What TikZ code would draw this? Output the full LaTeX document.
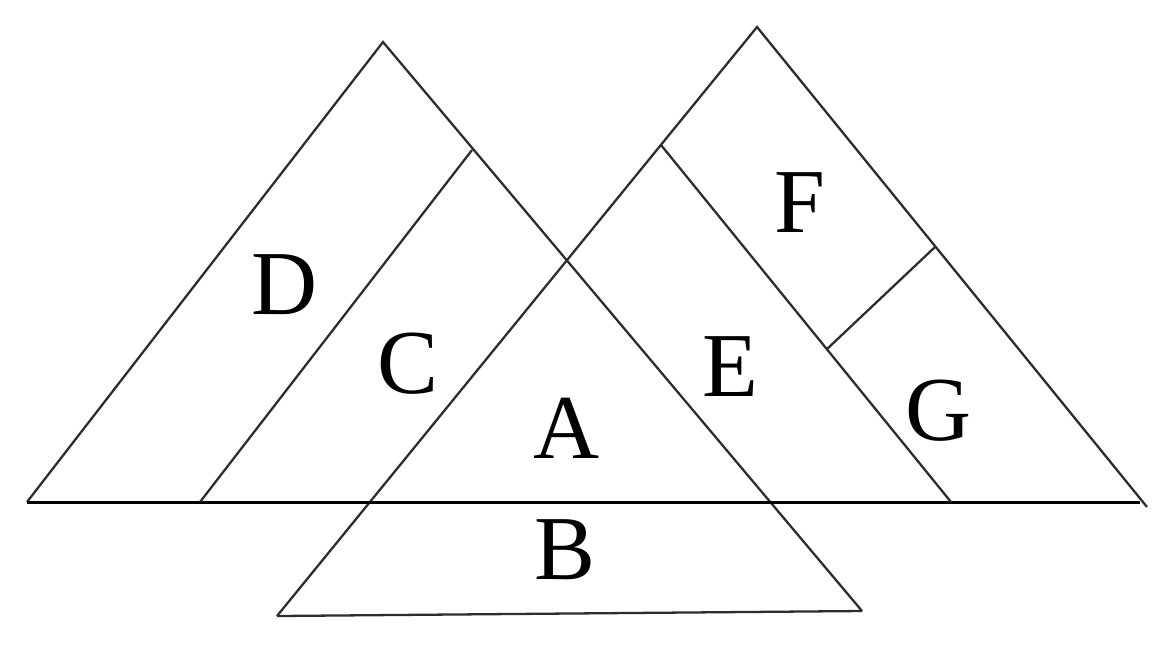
\documentclass[tikz,border=0pt]{standalone}
\usepackage{fontspec}
\setmainfont{Liberation Serif}
\usepackage{tikz}
\definecolor{tgblack}{RGB}{45,45,45}
\definecolor{tgdark}{RGB}{0,0,0}

\begin{document}
\begin{tikzpicture}[x=0.01cm,y=-0.01cm,
    tri/.style={tgblack,line width=0.65pt,line join=miter},
    groundline/.style={tgdark,line width=0.85pt},
    lab/.style={inner sep=0pt,font=\fontsize{26}{30}\selectfont}]
    \useasboundingbox (0,0) rectangle (1174,648);
    % Define corners
    \coordinate (topL) at (383,42);
    \coordinate (topR) at (757,27);
    \coordinate (baseL) at (27,502);
    \coordinate (baseR) at (1140,502);
    \coordinate (endR) at (1147,507);
    \coordinate (lowL) at (277,616);
    \coordinate (lowR) at (862,611);
    \coordinate (innL) at (472,150);
    \coordinate (innLb) at (200,502);
    \coordinate (innR) at (661,145);
    \coordinate (innRb) at (951,502);
    \coordinate (cutF) at (935,247);
    \coordinate (cutG) at (827,349);

    % Draw the triangles
    \draw[tri] (baseL) -- (topL) -- (lowR);
    \draw[tri] (lowL) -- (topR) -- (endR);
    \draw[tri] (lowL) -- (lowR);
    \draw[groundline] (baseL) -- (baseR);
    \draw[tri] (innL) -- (innLb);
    \draw[tri] (innR) -- (innRb);
    \draw[tri] (cutF) -- (cutG);

    % Draw labels
    \node[lab] (labD) at (285,285) {D};
    \node[lab] (labC) at (408,364) {C};
    \node[lab] (labA) at (566,428) {A};
    \node[lab] (labB) at (565,550) {B};
    \node[lab] (labE) at (730,367) {E};
    \node[lab] (labF) at (800,203) {F};
    \node[lab] (labG) at (938,411) {G};
\end{tikzpicture}
\end{document}
